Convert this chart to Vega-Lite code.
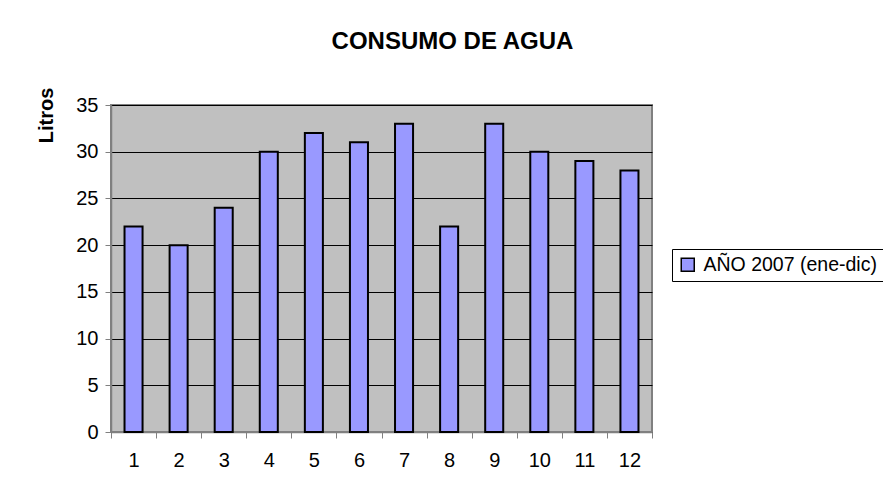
{
  "$schema": "https://vega.github.io/schema/vega-lite/v6.json",
  "width": 541,
  "height": 327,
  "autosize": {"type": "none"},
  "padding": {"left": 111, "top": 105, "right": 231, "bottom": 59},
  "background": "white",
  "config": {
    "font": "Liberation Sans",
    "view": {"fill": "#C0C0C0", "stroke": "#808080", "strokeWidth": 2}
  },
  "title": {
    "text": "CONSUMO DE AGUA",
    "font": "Liberation Sans",
    "fontSize": 24,
    "fontWeight": "bold",
    "color": "black",
    "anchor": "middle",
    "frame": "group",
    "baseline": "alphabetic",
    "offset": 14,
    "dx": 71
  },
  "data": {
    "values": [
      {"mes": "1", "litros": 22, "serie": "AÑO 2007 (ene-dic)"},
      {"mes": "2", "litros": 20, "serie": "AÑO 2007 (ene-dic)"},
      {"mes": "3", "litros": 24, "serie": "AÑO 2007 (ene-dic)"},
      {"mes": "4", "litros": 30, "serie": "AÑO 2007 (ene-dic)"},
      {"mes": "5", "litros": 32, "serie": "AÑO 2007 (ene-dic)"},
      {"mes": "6", "litros": 31, "serie": "AÑO 2007 (ene-dic)"},
      {"mes": "7", "litros": 33, "serie": "AÑO 2007 (ene-dic)"},
      {"mes": "8", "litros": 22, "serie": "AÑO 2007 (ene-dic)"},
      {"mes": "9", "litros": 33, "serie": "AÑO 2007 (ene-dic)"},
      {"mes": "10", "litros": 30, "serie": "AÑO 2007 (ene-dic)"},
      {"mes": "11", "litros": 29, "serie": "AÑO 2007 (ene-dic)"},
      {"mes": "12", "litros": 28, "serie": "AÑO 2007 (ene-dic)"}
    ]
  },
  "mark": {"type": "bar", "width": {"band": 0.4}, "stroke": "black", "strokeWidth": 2},
  "encoding": {
    "x": {
      "field": "mes",
      "type": "ordinal",
      "sort": null,
      "scale": {"paddingInner": 0, "paddingOuter": 0},
      "axis": {
        "title": null,
        "labelAngle": 0,
        "labelFontSize": 20,
        "labelColor": "black",
        "labelPadding": 12,
        "tickBand": "extent",
        "tickSize": 6,
        "tickColor": "#808080",
        "domainColor": "#808080",
        "domainWidth": 1.5,
        "grid": false
      }
    },
    "y": {
      "field": "litros",
      "type": "quantitative",
      "scale": {"domain": [0, 35], "nice": false},
      "axis": {
        "values": [0, 5, 10, 15, 20, 25, 30, 35],
        "title": "Litros",
        "titleFontSize": 20,
        "titleFontWeight": "bold",
        "titleColor": "black",
        "titleAngle": 270,
        "titleAlign": "center",
        "titleBaseline": "alphabetic",
        "titleX": -59,
        "titleY": 10,
        "labelFontSize": 20,
        "labelColor": "black",
        "labelPadding": 7,
        "tickSize": 6,
        "tickColor": "#808080",
        "domainColor": "#808080",
        "domainWidth": 1.5,
        "grid": true,
        "gridColor": "black",
        "gridWidth": 1,
        "gridOpacity": 1
      }
    },
    "color": {
      "field": "serie",
      "type": "nominal",
      "scale": {"range": ["#9999FF"]},
      "legend": {
        "title": null,
        "orient": "none",
        "legendX": 561,
        "legendY": 144,
        "strokeColor": "black",
        "fillColor": "white",
        "padding": 6,
        "symbolType": "square",
        "symbolSize": 169,
        "symbolStrokeColor": "black",
        "symbolStrokeWidth": 1.5,
        "symbolOpacity": 1,
        "labelFontSize": 19.5,
        "labelColor": "black",
        "labelOffset": 6,
        "labelLimit": 400
      }
    }
  }
}
